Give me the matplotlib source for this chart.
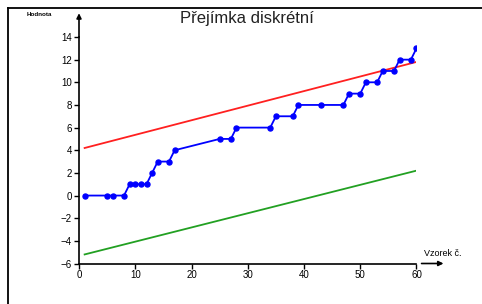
import numpy as np
import matplotlib.pyplot as plt
from matplotlib.lines import Line2D

plt.rcParams['font.family'] = ['Liberation Sans', 'DejaVu Sans']

# measured samples
vzorek = [1, 5, 6, 8, 9, 10, 11, 12, 13, 14, 16, 17, 25, 27, 28, 34, 35, 38, 39,
          43, 47, 48, 50, 51, 53, 54, 56, 57, 59, 60]
hodnota = [0, 0, 0, 0, 1, 1, 1, 1, 2, 3, 3, 4, 5, 5, 6, 6, 7, 7, 8,
           8, 8, 9, 9, 10, 10, 11, 11, 12, 12, 13]

# limit lines (start / end)
mez_x = [1, 60]
horni = [4.2, 11.8]
dolni = [-5.2, 2.2]

xticks = [0, 10, 20, 30, 40, 50, 60]
yticks = [-6, -4, -2, 0, 2, 4, 6, 8, 10, 12, 14]

W, H = 482, 304
fig = plt.figure(figsize=(W / 100, H / 100), dpi=100)

# outer frame: only left and top edge fall inside the picture
fx, fy = 7.5 / W, 1 - 7.5 / H
fig.add_artist(Line2D([fx, fx], [0, fy], transform=fig.transFigure, color='black', lw=1.3))
fig.add_artist(Line2D([fx, 1], [fy, fy], transform=fig.transFigure, color='black', lw=1.3))

x0, x1 = 79, 416.5
y0, y1 = 263.5, 37
ax = fig.add_axes([x0 / W, (H - y0) / H, (x1 - x0) / W, (y0 - y1) / H])
ax.patch.set_alpha(0)

ax.plot(mez_x, horni, color='#ff2020', lw=1.3, zorder=2)
ax.plot(mez_x, dolni, color='#22a022', lw=1.3, zorder=2)
ax.plot(vzorek, hodnota, color='#0000ff', lw=1.3, marker='o', ms=3.6, zorder=3)

ax.set_xlim(0, 60)
ax.set_ylim(-6, 14)
ax.set_xticks(xticks)
ax.set_yticks(yticks)
ax.tick_params(direction='out', length=3.5, width=1, labelsize=7, pad=1.5)
for s in ['top', 'right']:
    ax.spines[s].set_visible(False)
for s in ['left', 'bottom']:
    ax.spines[s].set_linewidth(1.2)

# axis arrows
ax.annotate('', xy=(0, 16.1), xytext=(0, 14), xycoords='data',
            arrowprops=dict(arrowstyle='-|>', lw=1.2, color='black',
                            mutation_scale=7, shrinkA=0, shrinkB=0),
            annotation_clip=False)
ax.annotate('', xy=(64.8, -6), xytext=(60.9, -6), xycoords='data',
            arrowprops=dict(arrowstyle='-|>', lw=1.2, color='black',
                            mutation_scale=7, shrinkA=0, shrinkB=0),
            annotation_clip=False)

fig.text(247 / W, 1 - 19 / H, 'Přejímka diskrétní', ha='center', va='center',
         fontsize=12, color='#222222')
fig.text(424 / W, 1 - 253 / H, 'Vzorek č.', ha='left', va='center', fontsize=6.5)
fig.text(27 / W, 1 - 14 / H, 'Hodnota', ha='left', va='center', fontsize=4.5,
         fontweight='bold')

fig.savefig('out.png', dpi=100)
